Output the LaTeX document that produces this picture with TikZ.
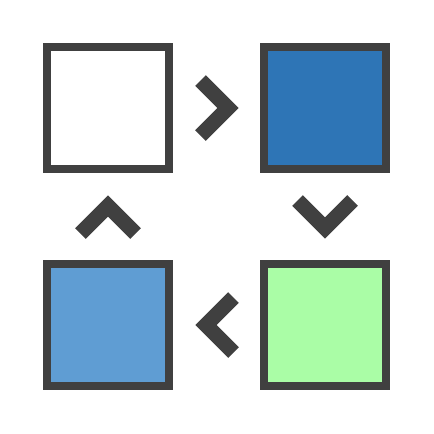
\documentclass[tikz,border=0pt]{standalone}
\definecolor{edge}{HTML}{404040}
\definecolor{darkblue}{HTML}{2E75B6}
\definecolor{lightblue}{HTML}{5F9DD3}
\definecolor{lightgreen}{HTML}{AAFDA6}
\tikzset{
  box/.style={draw=edge, line width=8pt, minimum size=122pt, inner sep=0pt, outer sep=0pt},
  chev/.style={draw=edge, line width=15pt, line join=miter, line cap=butt}
}
\begin{document}
\begin{tikzpicture}[x=1pt,y=-1pt]
\useasboundingbox (0,0) rectangle (434,434);
\node[box, fill=white] (tl) at (108,108) {};
\node[box, fill=darkblue] (tr) at (325,108) {};
\node[box, fill=lightgreen] (br) at (325,325) {};
\node[box, fill=lightblue] (bl) at (108,325) {};
% right chevron
\draw[chev] (200.5,80.5) -- (228,108) -- (200.5,135.5);
% down chevron
\draw[chev] (297.5,200.5) -- (325,228) -- (352.5,200.5);
% left chevron
\draw[chev] (233.5,297.5) -- (206,325) -- (233.5,352.5);
% up chevron
\draw[chev] (80.5,233.5) -- (108,206) -- (135.5,233.5);
\end{tikzpicture}
\end{document}
